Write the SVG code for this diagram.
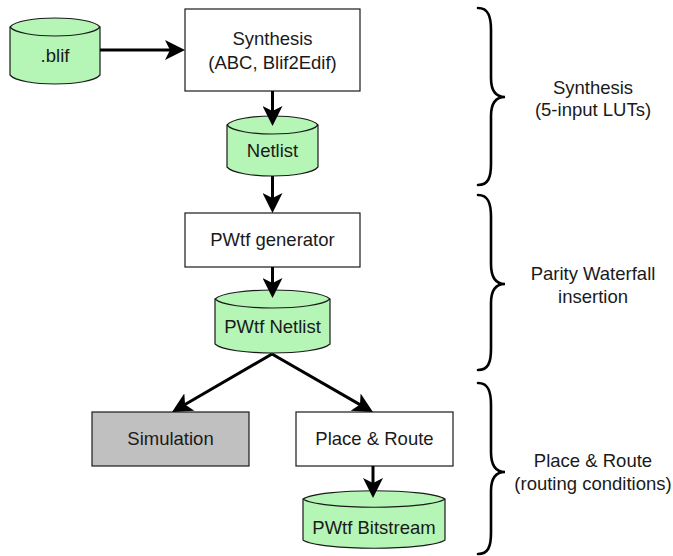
<svg xmlns="http://www.w3.org/2000/svg" width="673" height="556" viewBox="0 0 673 556">
<defs>
<style>
.box{fill:#ffffff;stroke:#1a1a1a;stroke-width:1.2}
.grey{fill:#c0c0c0;stroke:#1a1a1a;stroke-width:1.2}
.cyl{fill:#b5f5b5;stroke:#1a1a1a;stroke-width:1.2}
.inner{fill:none;stroke:#1a1a1a;stroke-width:1.2}
.t{font-family:"Liberation Sans",Arial,sans-serif;font-size:18.5px;fill:#1a1a1a;text-anchor:middle}
.edge{fill:none;stroke:#000;stroke-width:3;marker-end:url(#arr)}
.brace{fill:none;stroke:#000;stroke-width:2.6;stroke-linecap:round}
</style>
<marker id="arr" markerUnits="userSpaceOnUse" viewBox="0 0 20 20" markerWidth="20" markerHeight="20" refX="10" refY="10" orient="auto">
<path d="M0,0 L20,10 L0,20 L5,10 Z" fill="#000"/>
</marker>
</defs>

<g id="blif">
<path class="cyl" d="M10,27 C20,15 90,15 100,27 L100,75 C90,87 20,87 10,75 Z"/>
<path class="inner" d="M10,27 C20,39 90,39 100,27"/>
<text class="t" x="55" y="62">.blif</text>
</g>

<g id="synthesis">
<rect class="box" x="185" y="9" width="175" height="82"/>
<text class="t" x="272.5" y="45">Synthesis</text>
<text class="t" x="272.5" y="69">(ABC, Blif2Edif)</text>
</g>

<g id="netlist">
<path class="cyl" d="M227,125 C237,113 308,113 318,125 L318,167 C308,179 237,179 227,167 Z"/>
<path class="inner" d="M227,125 C237,137 308,137 318,125"/>
<text class="t" x="272.5" y="157">Netlist</text>
</g>

<g id="pwtf-generator">
<rect class="box" x="185" y="213" width="175" height="54"/>
<text class="t" x="272.5" y="246">PWtf generator</text>
</g>

<g id="pwtf-netlist">
<path class="cyl" d="M215,299 C228,287 317,287 330,299 L330,344 C317,356 228,356 215,344 Z"/>
<path class="inner" d="M215,299 C228,311 317,311 330,299"/>
<text class="t" x="272.5" y="333">PWtf Netlist</text>
</g>

<g id="simulation">
<rect class="grey" x="92" y="412" width="157" height="54"/>
<text class="t" x="170.5" y="445">Simulation</text>
</g>

<g id="place-route">
<rect class="box" x="296" y="412" width="157" height="54"/>
<text class="t" x="374.5" y="445">Place &amp; Route</text>
</g>

<g id="pwtf-bitstream">
<path class="cyl" d="M303,499 C319,488 429,488 445,499 L445,540 C429,551 319,551 303,540 Z"/>
<path class="inner" d="M303,499 C319,510 429,510 445,499"/>
<text class="t" x="374" y="534">PWtf Bitstream</text>
</g>

<g id="connectors">
<line class="edge" x1="100" y1="50" x2="175" y2="50"/>
<line class="edge" x1="272.5" y1="91" x2="272.5" y2="116"/>
<line class="edge" x1="272.5" y1="176" x2="272.5" y2="203"/>
<line class="edge" x1="272.5" y1="267" x2="272.5" y2="288"/>
<line class="edge" x1="272" y1="354" x2="180.7" y2="407"/>
<line class="edge" x1="272" y1="354" x2="364.3" y2="407.1"/>
<line class="edge" x1="373" y1="466" x2="373" y2="488"/>
</g>

<g id="brace-synthesis">
<path class="brace" d="M478,8 C488,8 491,16 491,30 L491,78 C491,90 495,97 505,97 C495,97 491,104 491,116 L491,164 C491,178 488,185 478,185"/>
<text class="t" x="593" y="94">Synthesis</text>
<text class="t" x="593" y="116">(5-input LUTs)</text>
</g>

<g id="brace-parity">
<path class="brace" d="M478,195 C488,195 491,203 491,217 L491,264 C491,276 495,284 505,284 C495,284 491,291 491,303 L491,349 C491,363 488,370 478,370"/>
<text class="t" x="593" y="280">Parity Waterfall</text>
<text class="t" x="593" y="303">insertion</text>
</g>

<g id="brace-place-route">
<path class="brace" d="M478,383 C488,383 491,391 491,405 L491,452 C491,464 495,472 505,472 C495,472 491,479 491,491 L491,533 C491,547 488,554 478,554"/>
<text class="t" x="593" y="467">Place &amp; Route</text>
<text class="t" x="593" y="490">(routing conditions)</text>
</g>
</svg>
